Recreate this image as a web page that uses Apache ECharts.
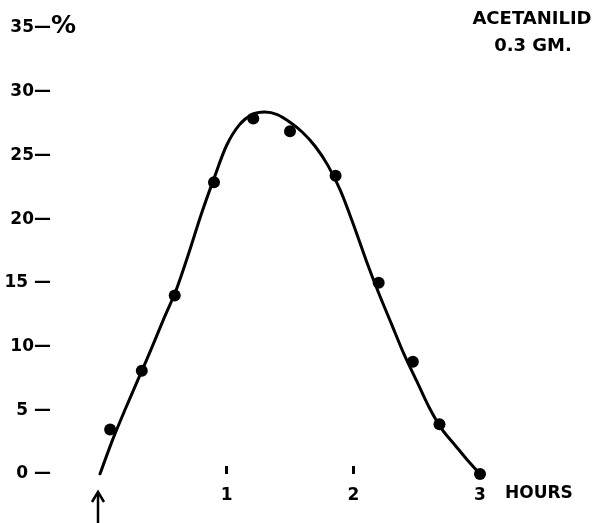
<!DOCTYPE html>
<html>
<head>
<meta charset="utf-8">
<script src="https://cdn.jsdelivr.net/npm/echarts@6/dist/echarts.min.js"></script>
<style>html,body{margin:0;padding:0;background:#fff}#c{width:598px;height:523px}</style>
</head>
<body>
<div id="c"></div>
<script>
// Measured points (hours, %)
const pointHours = [0.08, 0.33, 0.59, 0.90, 1.21, 1.50, 1.86, 2.20, 2.47, 2.68, 3.00];
const pointValues = [3.5, 8.1, 14.0, 22.9, 27.9, 26.9, 23.4, 15.0, 8.8, 3.9, 0];
// Fitted curve every 0.1 hour
const curveHours = [0, 0.1, 0.2, 0.3, 0.4, 0.5, 0.6, 0.7, 0.8, 0.9, 1.0, 1.1, 1.2, 1.3, 1.4, 1.5,
  1.6, 1.7, 1.8, 1.9, 2.0, 2.1, 2.2, 2.3, 2.4, 2.5, 2.6, 2.7, 2.8, 2.9, 3.0];
const curveValues = [0, 2.7, 5.1, 7.4, 9.7, 12.1, 14.4, 17.3, 20.4, 23.2, 25.8, 27.4, 28.2, 28.4, 28.2, 27.6,
  26.8, 25.7, 24.2, 22.2, 19.6, 16.8, 14.2, 11.8, 9.4, 7.3, 5.2, 3.5, 2.3, 1.1, 0];
const yTicks = [0, 5, 10, 15, 20, 25, 30, 35];
const yTickLabels = ['0 \u2014', '5 \u2014', '10\u2014', '15 \u2014', '20\u2014', '25\u2014', '30\u2014', '35\u2014'];
const xTicks = [1, 2];
const xLabels = [1, 2, 3];
const titleLines = ['ACETANILID', '0.3 GM.'];
const unitX = 'HOURS';
const unitY = '%';

const FONT = 'DejaVu Sans';
const chart = echarts.init(document.getElementById('c'));
const option = {
  animation: false,
  backgroundColor: '#fff',
  grid: { left: 100, right: 118, top: 28, bottom: 49 },
  xAxis: {
    type: 'value', min: 0, max: 3,
    axisLine: { show: false },
    splitLine: { show: false },
    axisTick: { show: true, inside: true, length: 8, customValues: xTicks, lineStyle: { color: '#000', width: 3 } },
    axisLabel: { customValues: xLabels, margin: 13, color: '#000', fontSize: 17, fontWeight: 'bold', fontFamily: FONT }
  },
  yAxis: {
    type: 'value', min: 0, max: 35, interval: 5,
    axisLine: { show: false },
    axisTick: { show: false },
    splitLine: { show: false },
    axisLabel: {
      margin: 49, color: '#000', fontSize: 17, fontWeight: 'bold', fontFamily: FONT,
      formatter: v => yTickLabels[yTicks.indexOf(v)]
    }
  },
  series: [
    {
      type: 'line', data: curveHours.map((h, i) => [h, curveValues[i]]),
      smooth: 0.3, showSymbol: false,
      lineStyle: { color: '#000', width: 3, join: 'round', cap: 'round' }
    },
    {
      type: 'scatter', data: pointHours.map((h, i) => [h, pointValues[i]]),
      symbolSize: 12, itemStyle: { color: '#000', opacity: 1 }
    }
  ],
  graphic: []
};
chart.setOption(option);

const o = chart.convertToPixel({ gridIndex: 0 }, [0, 0]);
const p3 = chart.convertToPixel({ gridIndex: 0 }, [3, 0]);
const p35 = chart.convertToPixel({ gridIndex: 0 }, [0, 35]);
chart.setOption({
  graphic: [
    { type: 'text', x: 532, y: 19, style: { text: titleLines[0], fontSize: 18, fontWeight: 'bold', fontFamily: FONT, fill: '#000', align: 'center', verticalAlign: 'middle' } },
    { type: 'text', x: 533, y: 46, style: { text: titleLines[1], fontSize: 18, fontWeight: 'bold', fontFamily: FONT, fill: '#000', align: 'center', verticalAlign: 'middle' } },
    { type: 'text', x: p3[0] + 25, y: o[1] + 20, style: { text: unitX, fontSize: 17, fontWeight: 'bold', fontFamily: FONT, fill: '#000', verticalAlign: 'middle' } },
    { type: 'text', x: 51, y: p35[1] - 2, style: { text: unitY, fontSize: 25, fontWeight: 'bold', fontFamily: FONT, fill: '#000', verticalAlign: 'middle' } },
    { type: 'polyline', shape: { points: [[o[0] - 2, o[1] + 19], [o[0] - 2, o[1] + 50]] }, style: { stroke: '#000', lineWidth: 2.5 } },
    { type: 'polyline', shape: { points: [[o[0] - 8, o[1] + 28], [o[0] - 2, o[1] + 18], [o[0] + 4, o[1] + 28]] }, style: { stroke: '#000', lineWidth: 2.5, fill: null } }
  ]
});
</script>
</body>
</html>
